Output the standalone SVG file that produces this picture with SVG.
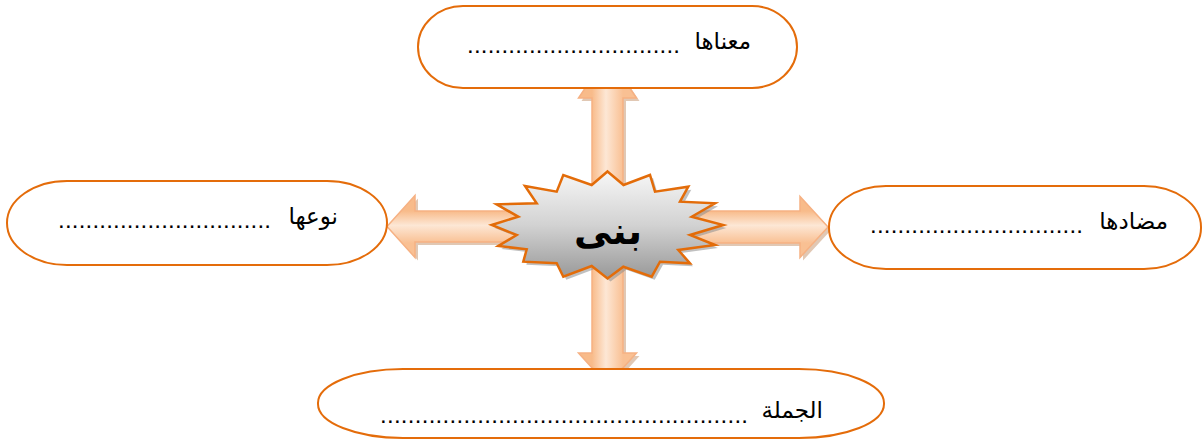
<svg xmlns="http://www.w3.org/2000/svg" width="1203" height="443" viewBox="0 0 1203 443">
  <style>
    .box { fill: #ffffff; stroke: #E46C0A; stroke-width: 2; }
    .lbl { font-family: "Liberation Sans", "DejaVu Sans", sans-serif; font-size: 23px; fill: #000; text-anchor: end; }
    .dots { font-family: "Liberation Sans", "DejaVu Sans", sans-serif; font-size: 24px; fill: #000; }
    .arrV { fill: url(#gradV); stroke: #F6B183; stroke-width: 1.5; }
    .arrH { fill: url(#gradH); stroke: #F6B183; stroke-width: 1.5; }
    .ashadow { fill: #C99A76; opacity: 0.55; }
    .star { fill: url(#gradStar); stroke: #E36C09; stroke-width: 2.5; stroke-linejoin: miter; }
    .sshadow { fill: #8C8C8C; opacity: 0.55; }
    .center { font-family: "Liberation Serif", "DejaVu Sans", serif; font-size: 38px; font-weight: bold; fill: #000; text-anchor: middle; }
  </style>
  <defs>
    <linearGradient id="gradV" gradientUnits="userSpaceOnUse" x1="592" y1="0" x2="623" y2="0">
      <stop offset="0" stop-color="#F8BB8A"/>
      <stop offset="0.45" stop-color="#FDE7D5"/>
      <stop offset="1" stop-color="#F9C093"/>
    </linearGradient>
    <linearGradient id="gradH" gradientUnits="userSpaceOnUse" x1="0" y1="211" x2="0" y2="243">
      <stop offset="0" stop-color="#F8BB8A"/>
      <stop offset="0.45" stop-color="#FDE7D5"/>
      <stop offset="1" stop-color="#F9C093"/>
    </linearGradient>
    <linearGradient id="gradStar" x1="0" y1="0" x2="0" y2="1">
      <stop offset="0" stop-color="#F7F7F7"/>
      <stop offset="0.5" stop-color="#D2D2D2"/>
      <stop offset="1" stop-color="#989898"/>
    </linearGradient>
  </defs>

  <g id="connectors">
    <!-- shadows -->
    <path class="ashadow" transform="translate(3,3)" d="M607.5,55 L636.5,98 L623,98 L623,200 L592,200 L592,98 L578.5,98 Z"/>
    <path class="ashadow" transform="translate(3,3)" d="M607.5,385 L636.5,353 L623,353 L623,260 L592,260 L592,353 L578.5,353 Z"/>
    <path class="ashadow" transform="translate(3,3)" d="M828,227 L800,196.5 L800,211 L690,211 L690,243 L800,243 L800,257.5 Z"/>
    <path class="ashadow" transform="translate(3,3)" d="M387,226.5 L415,195.5 L415,211 L520,211 L520,242 L415,242 L415,257.5 Z"/>
    <!-- arrows -->
    <path id="arrow-up" class="arrV" d="M607.5,55 L636.5,98 L623,98 L623,200 L592,200 L592,98 L578.5,98 Z"/>
    <path id="arrow-down" class="arrV" d="M607.5,385 L636.5,353 L623,353 L623,260 L592,260 L592,353 L578.5,353 Z"/>
    <path id="arrow-right" class="arrH" d="M828,227 L800,196.5 L800,211 L690,211 L690,243 L800,243 L800,257.5 Z"/>
    <path id="arrow-left" class="arrH" d="M387,226.5 L415,195.5 L415,211 L520,211 L520,242 L415,242 L415,257.5 Z"/>
  </g>

  <g id="node-top">
    <rect class="box" x="418" y="6" width="379" height="82" rx="45" ry="41"/>
    <text class="lbl" x="751" y="49">معناها</text>
    <text class="dots" x="467" y="53" textLength="213" lengthAdjust="spacing">...............................</text>
  </g>

  <g id="node-left">
    <rect class="box" x="7" y="181" width="380" height="84" rx="60" ry="42"/>
    <text class="lbl" x="338" y="224">نوعها</text>
    <text class="dots" x="58" y="228" textLength="213" lengthAdjust="spacing">...............................</text>
  </g>

  <g id="node-right">
    <rect class="box" x="829" y="186" width="372" height="83" rx="57" ry="41"/>
    <text class="lbl" x="1168" y="229">مضادها</text>
    <text class="dots" x="870" y="233" textLength="213" lengthAdjust="spacing">...............................</text>
  </g>

  <g id="node-bottom">
    <rect class="box" x="318" y="369" width="566" height="69" rx="85" ry="34"/>
    <text class="lbl" x="823" y="418">الجملة</text>
    <text class="dots" x="380" y="423" textLength="368" lengthAdjust="spacing">.....................................................</text>
  </g>

  <g id="node-center">
    <polygon class="sshadow" transform="translate(3,3)" points="607.5,171.5 623.5,185 650,175 655,191.7 688.3,186.7 680,201.7 715,203.3 691.7,216.7 723.3,225 690,235 715,245 678.3,250 690,263.3 660,261.7 651.7,276.7 623.3,266.7 607.5,278.5 591.7,266 563.3,276.7 556.7,263.3 523.3,261.7 526.7,249.3 498.3,246 516.7,235 491.7,225 518.3,216.7 496.7,204.3 536.7,203.3 525,186 556.7,191.7 563.3,175 591.7,185"/>
    <polygon class="star" points="607.5,171.5 623.5,185 650,175 655,191.7 688.3,186.7 680,201.7 715,203.3 691.7,216.7 723.3,225 690,235 715,245 678.3,250 690,263.3 660,261.7 651.7,276.7 623.3,266.7 607.5,278.5 591.7,266 563.3,276.7 556.7,263.3 523.3,261.7 526.7,249.3 498.3,246 516.7,235 491.7,225 518.3,216.7 496.7,204.3 536.7,203.3 525,186 556.7,191.7 563.3,175 591.7,185"/>
    <text class="center" x="608" y="244">بنى</text>
  </g>
</svg>
